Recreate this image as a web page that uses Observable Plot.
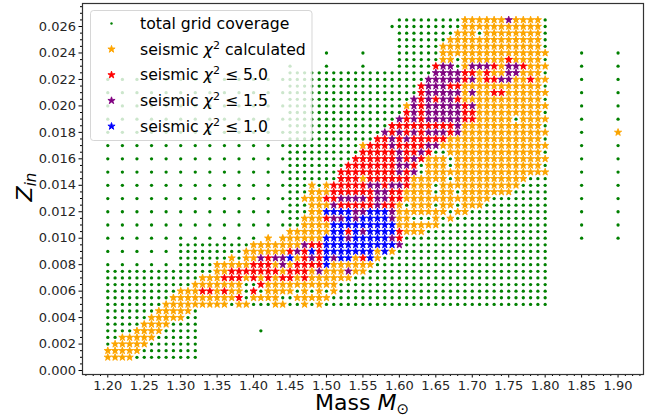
<!DOCTYPE html>
<html><head><meta charset="utf-8">
<script src="https://cdn.jsdelivr.net/npm/d3@7"></script>
<script src="https://cdn.jsdelivr.net/npm/@observablehq/plot@0.6"></script>
<style>html,body{margin:0;padding:0;background:#fff}</style>
</head><body><div id="chart"></div>
<script>
// Rows are [Z x 10000, "masses x 100"], where "a-b" is a run of neighbouring masses on the grid.
const sparse = "120 122 124 126 128 130 132 134 136 138 140 142 144";
const gridRows = [
  [10,"120-132"],[15,"120-132"],[20,"120-132"],[25,"120-132"],[30,"120-132 141"],[35,"120-132"],[40,"120-132"],[45,"120-132"],
  [50,"120-180"],[55,"120-180"],[60,"120-180"],[65,"120-180"],[70,"120-180"],[75,"120-180"],
  [80,"120 122 124 126 128 130-180"],[85,"130-180"],[90,"120 122 124 126 128 130-180"],[95,"130-180"],
  [100,sparse+" 145-180 185 190"],[105,"145-180"],[110,sparse+" 145-180 185 190"],[115,"145-180"],
  [120,sparse+" 145-180 185 190"],[125,"145-180"],[130,sparse+" 145-180 185 190"],[135,"145-180"],
  [140,sparse+" 145-180 185 190"],[145,"145-180"],[150,sparse+" 145-180 185 190"],[155,"145-180"],
  [160,sparse+" 145-180 185 190"],[165,"145-180"],[170,sparse+" 145-180 185 190"],[175,"145-180"],
  [180,sparse+" 145-180 185 190"],[185,"145-180"],[190,sparse+" 145-180 185 190"],[195,"145-180"],
  [200,sparse+" 145-180 185 190"],[205,"145-180"],[210,sparse+" 145-180 185 190"],[215,"145-180"],
  [220,sparse+" 145-180 185 190"],[225,"145-180"],[230,"145 150 155 160-180 185 190"],[235,"160-180"],
  [240,"150 155 160-180 185 190"],[245,"160-180"],[250,"160-180"],[255,"160-180"],[260,"159-180"],[265,"160-180"]
];
const calculatedRows = [
  [10,"120-123"],[15,"120-124"],[20,"121-125"],[25,"122-126"],[30,"124-127"],[35,"125-128"],[40,"126-130"],[45,"127-131"],
  [50,"128-136 138 139 143 144 147 149"],[55,"129-137 140-143 146-150"],[60,"130-132 135 137 138 142-145 147 149 151"],
  [65,"132-138 142-151"],[70,"133-135 139 141 143 146 148-153"],[75,"135 136 144 148 150-152 154 155"],
  [80,"135-139 143 145 151-156"],[85,"137 139 140 146 154 157"],[90,"139-144 157 159"],[95,"140-146"],
  [100,"142 144-149"],[105,"145-150 161-163"],[110,"147-150 160-165"],[115,"147-149 160 161 165 167"],
  [120,"148 149 160-166 168 169"],[125,"148-150 160 162-164 166 167 169-171"],[130,"147-149 161-172"],
  [135,"148-150 161-164 166 167 169-175"],[140,"148 150 162-164 166-176"],[145,"155 162-166 168-177"],
  [150,"164-180"],[155,"164-166 168-179"],[160,"164-166 168-180"],[165,"167-179"],[170,"155 166-180"],[175,"167-179"],
  [180,"169-180 190"],[185,"169-179"],[190,"171-175 177-180"],[195,"171-179"],[200,"161 171-180"],[205,"169-179"],
  [210,"169 171 172 175-180"],[215,"169-179"],[220,"171 176 177 179 180"],[225,"171 173 174 177-179"],
  [230,"169 174 178-180"],[235,"166 167 169-179"],[240,"166-180"],[245,"166-179"],[250,"167-179"],
  [255,"168-170 172-179"],[260,"169-179"],[265,"169-174 176-179"]
];
const chi5Rows = [
  [55,"138"],[60,"133 134 136 140"],[65,"141"],[70,"136-138 140 142 144 145 147"],[75,"137-143 145-147"],
  [80,"140-142 146-149"],[85,"142 147 149 155"],[90,"145 147 149"],[95,"148 149"],[100,"160"],[105,"153 160"],
  [115,"150"],[125,"152-156 158 159"],[130,"150 151 156 159 160"],[135,"151-156 159 160"],[140,"151-155 158 161"],
  [145,"152-154 156-161"],[150,"152-159 161"],[155,"153-159 162"],[160,"154-159 161 163"],[165,"155-159 161 162 164"],
  [170,"156-158 160-163"],[175,"157 158 160 162-166"],[180,"159 161 163 167"],[185,"159-167"],[190,"161 163 169 170"],
  [195,"161 163 169 170"],[200,"163 169"],[205,"163 165 168"],[210,"163 173 174"],[215,"163 167 168"],
  [220,"169 172 173 178"],[225,"169 170 172"],[230,"165 173 177"],[235,"175"]
];
const chi15Rows = [
  [75,"149 153"],[80,"144"],[85,"141 143 144 148 151"],[90,"146"],[95,"147 160"],[100,"153 159"],[105,"155"],
  [115,"151 152 154 159"],[120,"154 155 159"],[125,"151 157"],[130,"152-155 157 158"],[135,"157 158"],
  [140,"156 157 159 160"],[150,"160 162"],[155,"160 161"],[160,"160 162"],[165,"160 163"],[170,"159 164 165"],
  [175,"159 161"],[180,"158 160 162 164-166 168"],[185,"168"],[190,"160 162 164-168"],[195,"162 164-168"],
  [200,"162 164-168 170"],[205,"162 164 166 167"],[210,"164-168 170"],[215,"164-166"],[220,"164-168 170 174 175"],
  [225,"165-168 175 176"],[230,"166 167 170-172 175 176"],[265,"175"]
];
const chi10Rows = [
  [80,"150"],[85,"145 150 152 153 156"],[90,"148 150-156 158"],[95,"150-159"],[100,"150-152 154-158"],
  [105,"151 152 154 156-159"],[110,"151-159"],[115,"153 155-158"],[120,"150-153 156-158"]
];
const seriesNames = ["total grid coverage", "seismic \u03c7\u00b2 calculated", "seismic \u03c7\u00b2 \u2264 5.0", "seismic \u03c7\u00b2 \u2264 1.5", "seismic \u03c7\u00b2 \u2264 1.0"];
const seriesColors = ["green", "orange", "red", "purple", "blue"];
const xTicks = [1.20,1.25,1.30,1.35,1.40,1.45,1.50,1.55,1.60,1.65,1.70,1.75,1.80,1.85,1.90];
const yTicks = [0,0.002,0.004,0.006,0.008,0.010,0.012,0.014,0.016,0.018,0.020,0.022,0.024,0.026];

function expand(rows){
  const out=[];
  for(const [z,spec] of rows) for(const tok of spec.split(" ")){
    const [a,b]=tok.split("-").map(Number);
    for(let m=a;m<=(b===undefined?a:b);m++) out.push({mass:m/100,z:z/10000});
  }
  return out;
}
const minor=(t,n)=>{const o=[];for(let i=0;i<t.length-1;i++)for(let k=1;k<n;k++)o.push(t[i]+(t[i+1]-t[i])*k/n);return o;};
const xMinor=[1.17,1.18,1.19,...minor(xTicks,5),1.91,1.92,1.93];
const yMinor=minor(yTicks,4).concat([0.0265,0.027,0.0275]);
const starR=2.25;
const star=(rows,fill)=>Plot.dot(expand(rows),{x:"mass",y:"z",symbol:"star",r:starR,fill,stroke:fill,strokeWidth:0.9,strokeLinejoin:"round"});

const plot=Plot.plot({
  width:660,height:418,marginLeft:82,marginRight:17,marginTop:3,marginBottom:44,
  style:{fontFamily:"'DejaVu Sans'",background:"#fff",color:"#262626"},
  x:{domain:[1.1653,1.9349]},
  y:{domain:[-0.0003,0.02774]},
  marks:[
    Plot.dot(expand(gridRows),{x:"mass",y:"z",r:1.65,fill:seriesColors[0],stroke:"none"}),
    star(calculatedRows,seriesColors[1]),
    star(chi5Rows,seriesColors[2]),
    star(chi15Rows,seriesColors[3]),
    star(chi10Rows,seriesColors[4]),
    Plot.axisX({ticks:xTicks,tickFormat:d3.format(".2f"),tickSize:3.5,tickPadding:3,fontSize:13,label:null,stroke:"#000"}),
    Plot.axisX({ticks:xMinor,tickSize:2,text:null,label:null,stroke:"#000"}),
    Plot.axisY({ticks:yTicks,tickFormat:d3.format(".3f"),tickSize:3.5,tickPadding:3,fontSize:13,label:null,stroke:"#000"}),
    Plot.axisY({ticks:yMinor,tickSize:2,text:null,label:null,stroke:"#000"}),
    Plot.frame({stroke:"#333",strokeWidth:1.2})
  ]
});
document.getElementById("chart").appendChild(plot);

const svg=d3.select(plot);
const ink="#000";
// axis titles
const xt=svg.append("text").attr("x",362).attr("y",410).attr("text-anchor","middle").attr("font-size",22).attr("fill",ink);
xt.append("tspan").text("Mass ");
xt.append("tspan").attr("font-style","italic").text("M");
xt.append("tspan").attr("font-size",15).attr("dy",4).text("\u2299");
const yt=svg.append("text").attr("transform","translate(32,187) rotate(-90)").attr("text-anchor","middle").attr("font-size",22).attr("fill",ink);
yt.append("tspan").attr("font-style","italic").text("Z");
yt.append("tspan").attr("font-style","italic").attr("font-size",15).attr("dy",4).text("in");

// legend
const lg=svg.append("g").attr("text-anchor","start");
lg.append("rect").attr("x",90.5).attr("y",10.5).attr("width",221.5).attr("height",130).attr("rx",3)
  .attr("fill","#fff").attr("fill-opacity",0.8).attr("stroke","#ccc").attr("stroke-opacity",0.8);
seriesNames.forEach((name,i)=>{
  const y=23.5+i*25.7;
  if(i===0) lg.append("circle").attr("cx",111.5).attr("cy",y).attr("r",1.2).attr("fill",seriesColors[0]);
  else lg.append("path").attr("transform",`translate(111.5,${y})`).attr("d",d3.symbol(d3.symbolStar,Math.PI*starR*starR)())
    .attr("fill",seriesColors[i]).attr("stroke",seriesColors[i]).attr("stroke-width",0.9).attr("stroke-linejoin","round");
  const t=lg.append("text").attr("x",140).attr("y",y+5.5).attr("font-size",15.7).attr("fill",ink);
  if(i===0){t.text(name);return;}
  t.append("tspan").text("seismic ");
  t.append("tspan").attr("font-style","italic").text("\u03c7");
  t.append("tspan").attr("font-size",11).attr("dy",-6).text("2");
  t.append("tspan").attr("dy",6).text(name.slice(name.indexOf("\u00b2")+1));
});
</script></body></html>
